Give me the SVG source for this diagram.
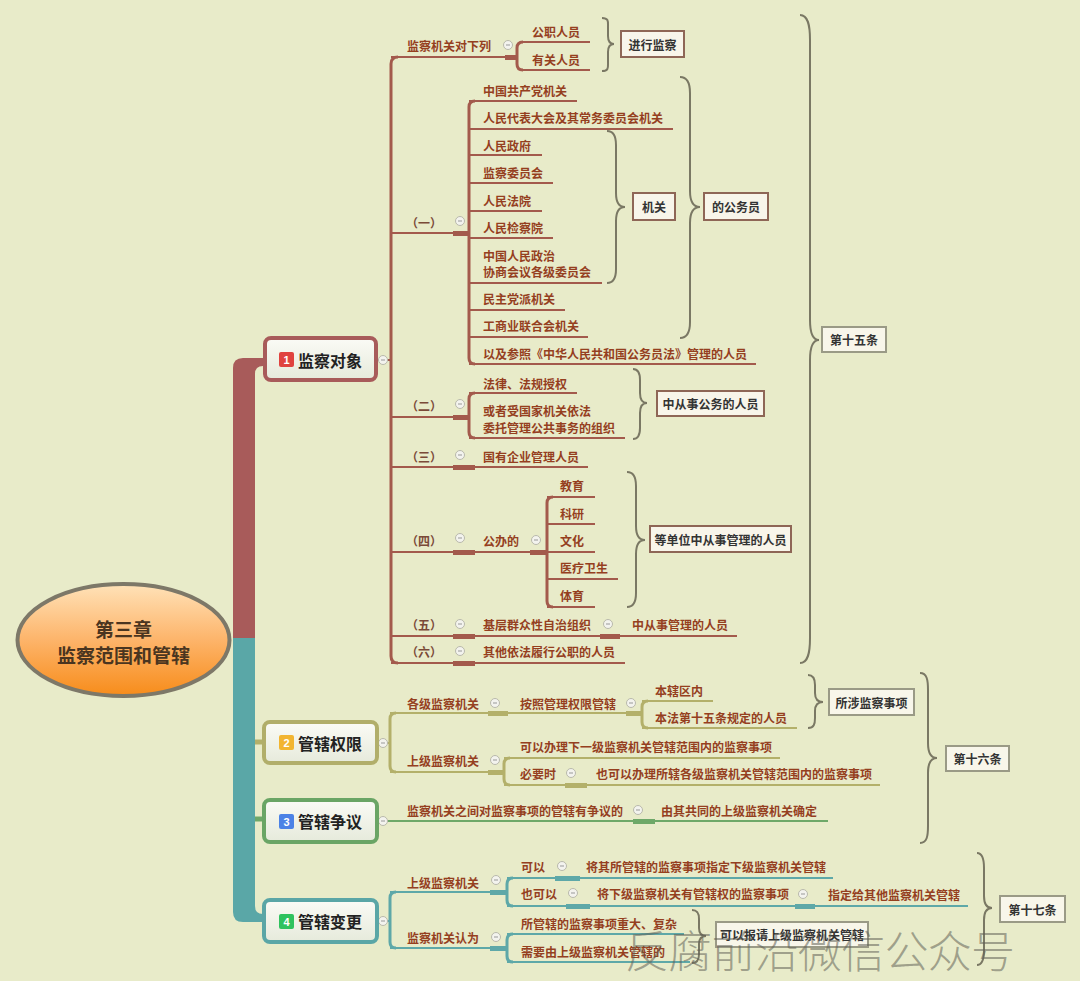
<svg xmlns="http://www.w3.org/2000/svg" xmlns:xlink="http://www.w3.org/1999/xlink" width="1080" height="981" viewBox="0 0 1080 981">
<style>
.t{font-family:"Noto Sans CJK SC","Noto Sans",sans-serif;font-size:12px;font-weight:bold;fill:#953f1f;dominant-baseline:central}
.lb{font-family:"Noto Sans CJK SC","Noto Sans",sans-serif;font-size:12px;font-weight:bold;fill:#7a4a38;dominant-baseline:central}
.bt{font-family:"Noto Sans CJK SC","Noto Sans",sans-serif;font-size:12px;font-weight:bold;fill:#333;dominant-baseline:central;text-anchor:middle}
.mt{font-family:"Noto Sans CJK SC","Noto Sans",sans-serif;font-size:16px;font-weight:bold;fill:#222;dominant-baseline:central}
.nt{font-family:"Liberation Sans",sans-serif;font-size:11px;font-weight:bold;fill:#fff;dominant-baseline:central;text-anchor:middle}
.l1{stroke:#a35a4c;stroke-width:2;fill:none}
.l2{stroke:#b3b06a;stroke-width:2;fill:none}
.l3{stroke:#6ea868;stroke-width:2;fill:none}
.l4{stroke:#5ea8a8;stroke-width:2;fill:none}
.v1{stroke:#a35a4c;stroke-width:3;fill:none}
.v2{stroke:#b3b06a;stroke-width:3;fill:none}
.v4{stroke:#5ea8a8;stroke-width:3;fill:none}
.br{stroke:#7a7864;stroke-width:2;fill:none}
.bx1{fill:#f8f5ea;stroke:#8e6656;stroke-width:2}
.bx2{fill:#f8f6ea;stroke:#9a9a86;stroke-width:2}
</style>
<defs>
<linearGradient id="og" x1="0" y1="0" x2="0" y2="1">
<stop offset="0" stop-color="#ffe2b8"/><stop offset="0.5" stop-color="#fdb46a"/><stop offset="1" stop-color="#f78c1a"/>
</linearGradient>
<linearGradient id="ng" x1="0" y1="0" x2="0" y2="1">
<stop offset="0" stop-color="#fbfbf6"/><stop offset="1" stop-color="#e6eadb"/>
</linearGradient>
<g id="cc"><circle r="4.5" fill="#f3f3ee" stroke="#b9b9ab" stroke-width="1"/><path d="M-2,0H2" stroke="#999" stroke-width="1"/></g>
</defs>
<rect width="1080" height="981" fill="#e8ebc9"/>

<g id="connectors">
<!-- main bands -->
<path d="M233,640 L233,368 Q233,358 243,358 L265,358 L265,366 L263,366 Q255,366 255,374 L255,640 Z" fill="#a85b5a"/>
<path d="M233,638 L233,912 Q233,922 243,922 L265,922 L265,914 L263,914 Q255,914 255,906 L255,638 Z" fill="#5aa7a7"/>
<path d="M255,742 H266" stroke="#b3b06a" stroke-width="5"/>
<path d="M255,819 H266" stroke="#6ea868" stroke-width="5"/>

<!-- node 1 tree -->
<path class="l1" d="M376,360 H391"/>
<path class="v1" d="M398,57 Q391,57 391,64 L391,656 Q391,663 398,663"/>
<path class="l1" d="M391,57 H517"/>
<rect x="505" y="55" width="12" height="5" fill="#a35a4c"/>
<path class="v1" d="M523,42 Q517,42 517,48 L517,64 Q517,70 523,70"/>
<path class="l1" d="M523,42 H590 M523,70 H590"/>

<path class="l1" d="M391,233 H469"/>
<rect x="453" y="231" width="16" height="5" fill="#a35a4c"/>
<path class="v1" d="M475,101 Q469,101 469,107 L469,358 Q469,364 475,364"/>
<path class="l1" d="M469,101 H577 M469,129 H673 M469,155 H542 M469,183 H553 M469,211 H542 M469,238 H553 M469,283 H602 M469,310 H565 M469,337 H588 M469,364 H756"/>

<path class="l1" d="M391,417 H469"/>
<rect x="453" y="415" width="16" height="5" fill="#a35a4c"/>
<path class="v1" d="M475,393 Q469,393 469,399 L469,432 Q469,438 475,438"/>
<path class="l1" d="M469,393 H577 M469,438 H625"/>

<path class="l1" d="M391,467 H588"/>
<rect x="453" y="465" width="22" height="5" fill="#a35a4c"/>

<path class="l1" d="M391,552 H547"/>
<rect x="453" y="550" width="22" height="5" fill="#a35a4c"/>
<rect x="530" y="550" width="17" height="5" fill="#a35a4c"/>
<path class="v1" d="M553,497 Q547,497 547,503 L547,601 Q547,607 553,607"/>
<path class="l1" d="M547,497 H595 M547,524 H595 M547,552 H595 M547,579 H618 M547,607 H595"/>

<path class="l1" d="M391,636 H737"/>
<rect x="453" y="634" width="22" height="5" fill="#a35a4c"/>
<rect x="600" y="634" width="20" height="5" fill="#a35a4c"/>

<path class="l1" d="M391,663 H625"/>
<rect x="453" y="661" width="22" height="5" fill="#a35a4c"/>

<!-- node 2 tree -->
<path class="l2" d="M376,743 H390"/>
<path class="v2" d="M396,713 Q390,713 390,719 L390,766 Q390,772 396,772"/>
<path class="l2" d="M390,713 H642"/>
<rect x="488" y="711" width="20" height="5" fill="#b3b06a"/>
<rect x="626" y="711" width="16" height="5" fill="#b3b06a"/>
<path class="v2" d="M648,701 Q642,701 642,707 L642,722 Q642,728 648,728"/>
<path class="l2" d="M642,701 H713 M642,728 H797"/>
<path class="l2" d="M390,772 H504"/>
<rect x="488" y="770" width="16" height="5" fill="#b3b06a"/>
<path class="v2" d="M510,758 Q504,758 504,764 L504,779 Q504,785 510,785"/>
<path class="l2" d="M504,758 H780 M504,785 H880"/>
<rect x="565" y="783" width="22" height="5" fill="#b3b06a"/>

<!-- node 3 tree -->
<path class="l3" d="M376,821 H828"/>
<rect x="633" y="819" width="22" height="5" fill="#6ea868"/>

<!-- node 4 tree -->
<path class="l4" d="M376,921 H390"/>
<path class="v4" d="M396,892 Q390,892 390,898 L390,942 Q390,948 396,948"/>
<path class="l4" d="M390,892 H507"/>
<rect x="490" y="890" width="17" height="5" fill="#5ea8a8"/>
<path class="v4" d="M513,878 Q507,878 507,884 L507,900 Q507,906 513,906"/>
<path class="l4" d="M507,878 H833 M507,906 H968"/>
<rect x="555" y="876" width="25" height="5" fill="#5ea8a8"/>
<rect x="566" y="904" width="24" height="5" fill="#5ea8a8"/>
<rect x="795" y="904" width="20" height="5" fill="#5ea8a8"/>
<path class="l4" d="M390,948 H507"/>
<rect x="490" y="946" width="17" height="5" fill="#5ea8a8"/>
<path class="v4" d="M513,934 Q507,934 507,940 L507,956 Q507,962 513,962"/>
<path class="l4" d="M507,934 H684 M507,962 H690"/>

<!-- braces -->
<path class="br" d="M602,18 C609,18 608,22 608,27 L608,36 C608,41 610,44 614,44 C610,44 608,47 608,52 L608,62 C608,67 609,71 602,71"/>
<path class="br" d="M607,131 C614,131 616,137 616,145 L616,193 C616,202 619,207 625,207 C619,207 616,212 616,221 L616,269 C616,277 614,283 607,283"/>
<path class="br" d="M680,77 C688,77 690,84 690,93 L690,191 C690,201 693,207 700,207 C693,207 690,213 690,223 L690,322 C690,331 688,338 680,338"/>
<path class="br" d="M800,15 C808,15 810,25 810,40 L810,320 C810,333 813,340 819,340 C813,340 810,347 810,360 L810,638 C810,653 808,663 800,663"/>
<path class="br" d="M633,369 C639,369 640,374 640,380 L640,393 C640,399 642,403 647,403 C642,403 640,407 640,413 L640,428 C640,434 639,439 633,439"/>
<path class="br" d="M627,472 C634,472 636,478 636,486 L636,526 C636,535 639,540 645,540 C639,540 636,545 636,554 L636,593 C636,601 634,607 627,607"/>
<path class="br" d="M808,675 C814,675 815,680 815,685 L815,693 C815,699 818,702 823,702 C818,702 815,705 815,711 L815,718 C815,724 814,728 808,728"/>
<path class="br" d="M920,673 C927,673 928,680 928,690 L928,743 C928,752 931,758 937,758 C931,758 928,764 928,773 L928,826 C928,836 927,843 920,843"/>
<path class="br" d="M977,853 C983,853 984,860 984,868 L984,896 C984,904 987,908 992,908 C987,908 984,912 984,920 L984,950 C984,958 983,965 977,965"/>
<path class="br" d="M692,910 C698,910 699,914 699,919 L699,928 C699,933 701,936 706,936 C701,936 699,939 699,944 L699,954 C699,959 698,963 692,963"/>

<!-- collapse markers -->
<use xlink:href="#cc" x="383" y="360"/>
<use xlink:href="#cc" x="508" y="45"/>
<use xlink:href="#cc" x="460" y="221"/>
<use xlink:href="#cc" x="460" y="404"/>
<use xlink:href="#cc" x="460" y="455"/>
<use xlink:href="#cc" x="460" y="538"/>
<use xlink:href="#cc" x="536" y="540"/>
<use xlink:href="#cc" x="460" y="624"/>
<use xlink:href="#cc" x="608" y="624"/>
<use xlink:href="#cc" x="460" y="651"/>
<use xlink:href="#cc" x="383" y="743"/>
<use xlink:href="#cc" x="495" y="703"/>
<use xlink:href="#cc" x="631" y="703"/>
<use xlink:href="#cc" x="495" y="760"/>
<use xlink:href="#cc" x="571" y="773"/>
<use xlink:href="#cc" x="383" y="821"/>
<use xlink:href="#cc" x="638" y="810"/>
<use xlink:href="#cc" x="383" y="921"/>
<use xlink:href="#cc" x="496" y="880"/>
<use xlink:href="#cc" x="562" y="866"/>
<use xlink:href="#cc" x="573" y="893"/>
<use xlink:href="#cc" x="803" y="894"/>
<use xlink:href="#cc" x="496" y="937"/>
</g>

<g id="root">
<ellipse cx="123.5" cy="640" rx="106" ry="56" fill="url(#og)" stroke="#7d7868" stroke-width="4"/>
<text x="123.5" y="628" text-anchor="middle" dominant-baseline="central" font-family="Noto Sans CJK SC, Noto Sans, sans-serif" font-size="19" font-weight="bold" fill="#4a3520">第三章</text>
<text x="123.5" y="654" text-anchor="middle" dominant-baseline="central" font-family="Noto Sans CJK SC, Noto Sans, sans-serif" font-size="19" font-weight="bold" fill="#4a3520">监察范围和管辖</text>
</g>

<g id="node1">
<rect x="265" y="338" width="111" height="42" rx="6" fill="url(#ng)" stroke="#a85b5a" stroke-width="4"/>
<rect x="279" y="352" width="15" height="15" rx="2" fill="#e0433f"/>
<text class="nt" x="286.5" y="359.5">1</text>
<text class="mt" x="298" y="360">监察对象</text>
</g>
<g id="node2">
<rect x="264" y="722" width="113" height="41" rx="6" fill="url(#ng)" stroke="#b1ae6a" stroke-width="4"/>
<rect x="279" y="735" width="15" height="15" rx="2" fill="#f2b531"/>
<text class="nt" x="286.5" y="742.5">2</text>
<text class="mt" x="298" y="743">管辖权限</text>
</g>
<g id="node3">
<rect x="264" y="800" width="113" height="42" rx="6" fill="url(#ng)" stroke="#6aa565" stroke-width="4"/>
<rect x="279" y="814" width="15" height="15" rx="2" fill="#4c82e6"/>
<text class="nt" x="286.5" y="821.5">3</text>
<text class="mt" x="298" y="821">管辖争议</text>
</g>
<g id="node4">
<rect x="264" y="900" width="113" height="42" rx="6" fill="url(#ng)" stroke="#5aa6a6" stroke-width="4"/>
<rect x="279" y="914" width="15" height="15" rx="2" fill="#2fc25e"/>
<text class="nt" x="286.5" y="921.5">4</text>
<text class="mt" x="298" y="921">管辖变更</text>
</g>

<g id="n1-children">
<text class="t" x="407" y="45">监察机关对下列</text>
<text class="t" x="532" y="31">公职人员</text>
<text class="t" x="532" y="59">有关人员</text>
<text class="lb" x="406" y="222">（一）</text>
<text class="t" x="483" y="90">中国共产党机关</text>
<text class="t" x="483" y="117">人民代表大会及其常务委员会机关</text>
<text class="t" x="483" y="145">人民政府</text>
<text class="t" x="483" y="172">监察委员会</text>
<text class="t" x="483" y="200">人民法院</text>
<text class="t" x="483" y="227">人民检察院</text>
<text class="t" x="483" y="255">中国人民政治</text>
<text class="t" x="483" y="271">协商会议各级委员会</text>
<text class="t" x="483" y="298">民主党派机关</text>
<text class="t" x="483" y="325">工商业联合会机关</text>
<text class="t" x="483" y="353">以及参照《中华人民共和国公务员法》管理的人员</text>
<text class="lb" x="406" y="405">（二）</text>
<text class="t" x="483" y="383">法律、法规授权</text>
<text class="t" x="483" y="410">或者受国家机关依法</text>
<text class="t" x="483" y="427">委托管理公共事务的组织</text>
<text class="lb" x="406" y="456">（三）</text>
<text class="t" x="483" y="456">国有企业管理人员</text>
<text class="lb" x="406" y="540">（四）</text>
<text class="t" x="483" y="540">公办的</text>
<text class="t" x="560" y="485">教育</text>
<text class="t" x="560" y="513">科研</text>
<text class="t" x="560" y="540">文化</text>
<text class="t" x="560" y="567">医疗卫生</text>
<text class="t" x="560" y="595">体育</text>
<text class="lb" x="406" y="624">（五）</text>
<text class="t" x="483" y="624">基层群众性自治组织</text>
<text class="t" x="632" y="624">中从事管理的人员</text>
<text class="lb" x="406" y="651">（六）</text>
<text class="t" x="483" y="651">其他依法履行公职的人员</text>
</g>
<g id="n1-boxes">
<rect class="bx1" x="621" y="31" width="63" height="26"/><text class="bt" x="652.5" y="44">进行监察</text>
<rect class="bx1" x="633" y="193" width="42" height="27"/><text class="bt" x="654" y="206.5">机关</text>
<rect class="bx1" x="704" y="193" width="64" height="27"/><text class="bt" x="736" y="206.5">的公务员</text>
<rect class="bx2" x="822" y="327" width="64" height="25"/><text class="bt" x="854" y="339.5">第十五条</text>
<rect class="bx1" x="657" y="391" width="107" height="25"/><text class="bt" x="710.5" y="403.5">中从事公务的人员</text>
<rect class="bx1" x="650" y="526" width="141" height="26"/><text class="bt" x="720.5" y="539">等单位中从事管理的人员</text>
</g>

<g id="n2-children">
<text class="t" x="407" y="703">各级监察机关</text>
<text class="t" x="520" y="703">按照管理权限管辖</text>
<text class="t" x="655" y="690">本辖区内</text>
<text class="t" x="655" y="717">本法第十五条规定的人员</text>
<text class="t" x="407" y="760">上级监察机关</text>
<text class="t" x="520" y="746">可以办理下一级监察机关管辖范围内的监察事项</text>
<text class="t" x="520" y="773">必要时</text>
<text class="t" x="596" y="773">也可以办理所辖各级监察机关管辖范围内的监察事项</text>
<rect class="bx2" x="829" y="689" width="85" height="26"/><text class="bt" x="871.5" y="702">所涉监察事项</text>
<rect class="bx2" x="946" y="746" width="63" height="25"/><text class="bt" x="977.5" y="758.5">第十六条</text>
</g>

<g id="n3-children">
<text class="t" x="407" y="810">监察机关之间对监察事项的管辖有争议的</text>
<text class="t" x="661" y="810">由其共同的上级监察机关确定</text>
</g>

<g id="n4-children">
<text class="t" x="407" y="882">上级监察机关</text>
<text class="t" x="521" y="866">可以</text>
<text class="t" x="586" y="866">将其所管辖的监察事项指定下级监察机关管辖</text>
<text class="t" x="521" y="893">也可以</text>
<text class="t" x="597" y="893">将下级监察机关有管辖权的监察事项</text>
<text class="t" x="828" y="894">指定给其他监察机关管辖</text>
<text class="t" x="407" y="937">监察机关认为</text>
<text class="t" x="521" y="923">所管辖的监察事项重大、复杂</text>
<text class="t" x="521" y="951">需要由上级监察机关管辖的</text>
<rect class="bx2" x="716" y="922" width="152" height="25"/><text class="bt" x="792" y="934.5">可以报请上级监察机关管辖</text>
<rect class="bx2" x="1000" y="896" width="65" height="26"/><text class="bt" x="1032.5" y="909">第十七条</text>
</g>

<text x="625" y="968" font-family="Noto Sans CJK SC, sans-serif" font-size="44" font-weight="300" fill="#5f5f55" fill-opacity="0.55" textLength="390" lengthAdjust="spacing">反腐前沿微信公众号</text>
</svg>
